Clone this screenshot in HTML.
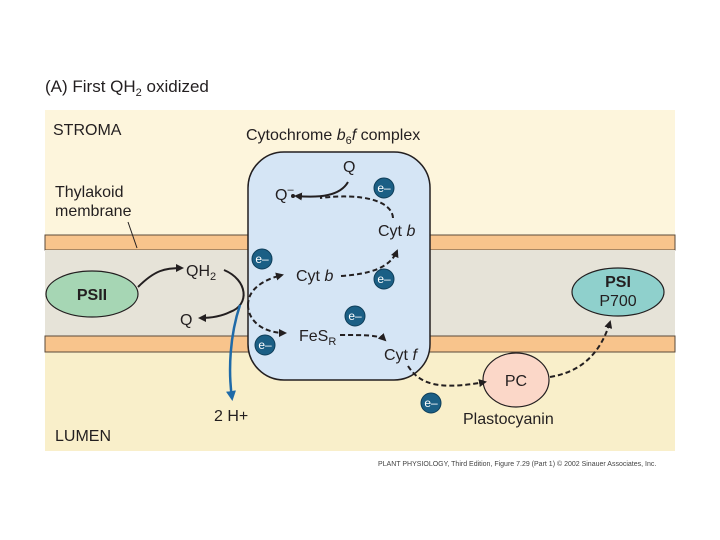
<!DOCTYPE html><html><head><style>body{margin:0;background:#fff}svg{display:block}text{font-family:"Liberation Sans",sans-serif;fill:#231f20}</style></head><body>
<svg width="720" height="540" xmlns="http://www.w3.org/2000/svg">
<defs><marker id="a" markerWidth="8" markerHeight="8" refX="6" refY="4" orient="auto" markerUnits="userSpaceOnUse"><path d="M0,0L8,4L0,8z" fill="#231f20"/></marker>
<marker id="b" markerWidth="10" markerHeight="10" refX="7" refY="5" orient="auto" markerUnits="userSpaceOnUse"><path d="M0,0L10,5L0,10z" fill="#1f6aa8"/></marker></defs>
<text x="45" y="92" font-size="17">(A)  First QH<tspan font-size="11" dy="4">2</tspan><tspan dy="-4"> oxidized</tspan></text>
<rect x="45" y="110" width="630" height="125" fill="#fdf5dc"/>
<rect x="45" y="352" width="630" height="99" fill="#f9efca"/>
<rect x="45" y="235" width="630" height="15" fill="#f8c48c" stroke="#5a4a3a" stroke-width="1"/>
<rect x="45" y="250" width="630" height="86" fill="#e6e3d8"/>
<rect x="45" y="336" width="630" height="16" fill="#f8c48c" stroke="#5a4a3a" stroke-width="1"/>
<rect x="248" y="152" width="182" height="228" rx="36" fill="#d5e5f5" stroke="#231f20" stroke-width="1.5"/>
<text x="53" y="135" font-size="16">STROMA</text>
<text x="55" y="197" font-size="16">Thylakoid</text><text x="55" y="216" font-size="16">membrane</text>
<line x1="128" y1="222" x2="137" y2="248" stroke="#231f20" stroke-width="1"/>
<text x="246" y="140" font-size="16">Cytochrome <tspan font-style="italic">b</tspan><tspan font-size="11" dy="4">6</tspan><tspan dy="-4" font-style="italic">f</tspan> complex</text>
<text x="55" y="441" font-size="16">LUMEN</text>
<ellipse cx="92" cy="294" rx="46" ry="23" fill="#a6d6b4" stroke="#231f20" stroke-width="1.2"/>
<text x="92" y="300" font-size="16" font-weight="bold" text-anchor="middle">PSII</text>
<ellipse cx="618" cy="292" rx="46" ry="24" fill="#8fd0cc" stroke="#231f20" stroke-width="1.2"/>
<text x="618" y="287" font-size="16" font-weight="bold" text-anchor="middle">PSI</text>
<text x="618" y="306" font-size="16" text-anchor="middle">P700</text>
<ellipse cx="516" cy="380" rx="33" ry="27" fill="#fbd7c8" stroke="#231f20" stroke-width="1.2"/>
<text x="516" y="386" font-size="16" text-anchor="middle">PC</text>
<text x="463" y="424" font-size="16">Plastocyanin</text>
<text x="186" y="276" font-size="16">QH<tspan font-size="11" dy="4">2</tspan></text>
<text x="180" y="325" font-size="16">Q</text>
<text x="214" y="421" font-size="16">2 H+</text>
<text x="343" y="172" font-size="16">Q</text>
<text x="275" y="200" font-size="16">Q<tspan font-size="11" dy="-7">–</tspan></text>
<circle cx="293" cy="196" r="2" fill="#231f20"/>
<text x="378" y="236" font-size="16">Cyt <tspan font-style="italic">b</tspan></text>
<text x="296" y="281" font-size="16">Cyt <tspan font-style="italic">b</tspan></text>
<text x="299" y="341" font-size="16">FeS<tspan font-size="11" dy="4">R</tspan></text>
<text x="384" y="360" font-size="16">Cyt <tspan font-style="italic">f</tspan></text>
<g fill="none" stroke="#231f20" stroke-width="2">
<path d="M138,287 C155,270 165,268 182,268" marker-end="url(#a)"/>
<path d="M224,270 C248,280 250,305 230,312 C220,317 210,318 200,318" marker-end="url(#a)"/>
<path d="M348,182 C340,196 320,198 296,196" marker-end="url(#a)"/>
<g stroke-dasharray="5,3">
<path d="M393,218 C392,200 360,193 320,198"/>
<path d="M341,276 C370,274 390,268 397,251" marker-end="url(#a)"/>
<path d="M248,305 C248,290 262,280 282,275" marker-end="url(#a)"/>
<path d="M248,305 C248,320 262,333 285,333" marker-end="url(#a)"/>
<path d="M340,335 C365,335 380,335 385,340" marker-end="url(#a)"/>
<path d="M408,366 C420,385 440,390 485,382" marker-end="url(#a)"/>
<path d="M550,377 C580,372 600,355 610,322" marker-end="url(#a)"/>
</g></g>
<path d="M240,305 C230,335 228,370 232,398" fill="none" stroke="#1f6aa8" stroke-width="2.5" marker-end="url(#b)"/>
<g font-size="12">
<g><circle cx="384" cy="188" r="10" fill="#1b5f85" stroke="#0e3d58"/><text x="384" y="192" text-anchor="middle" style="fill:#fff">e–</text></g>
<g><circle cx="262" cy="259" r="10" fill="#1b5f85" stroke="#0e3d58"/><text x="262" y="263" text-anchor="middle" style="fill:#fff">e–</text></g>
<g><circle cx="384" cy="279" r="10" fill="#1b5f85" stroke="#0e3d58"/><text x="384" y="283" text-anchor="middle" style="fill:#fff">e–</text></g>
<g><circle cx="355" cy="316" r="10" fill="#1b5f85" stroke="#0e3d58"/><text x="355" y="320" text-anchor="middle" style="fill:#fff">e–</text></g>
<g><circle cx="265" cy="345" r="10" fill="#1b5f85" stroke="#0e3d58"/><text x="265" y="349" text-anchor="middle" style="fill:#fff">e–</text></g>
<g><circle cx="431" cy="403" r="10" fill="#1b5f85" stroke="#0e3d58"/><text x="431" y="407" text-anchor="middle" style="fill:#fff">e–</text></g>
</g>
<text x="378" y="466" font-size="7" style="fill:#444">PLANT PHYSIOLOGY, Third Edition, Figure 7.29 (Part 1)  © 2002 Sinauer Associates, Inc.</text>
</svg></body></html>
